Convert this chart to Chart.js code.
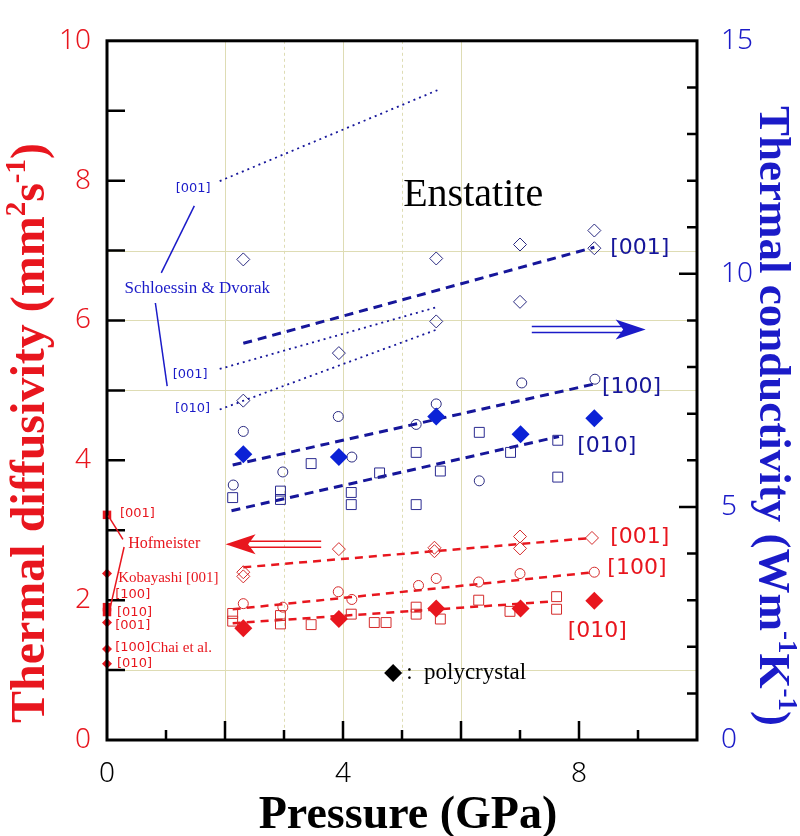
<!DOCTYPE html>
<html>
<head>
<meta charset="utf-8">
<script src="https://cdn.jsdelivr.net/npm/chart.js@4"></script>
<style>
  body { margin: 0; background: #fff; }
  canvas { display: block; }
</style>
</head>
<body>
<canvas id="chart" width="800" height="836"></canvas>
<script>
// ---- data (x = pressure GPa) ----
// conductivity, right axis (W m-1 K-1)
const b001X = [2.31, 2.31, 3.93, 5.58, 5.58, 7.0, 7.0, 8.26, 8.26];
const b001Y = [10.31, 7.28, 8.30, 8.98, 10.33, 10.63, 9.40, 10.93, 10.55];
const b100X = [2.31, 2.14, 2.98, 3.92, 4.15, 5.24, 5.58, 6.31, 7.03, 8.27];
const b100Y = [6.62, 5.47, 5.75, 6.94, 6.07, 6.77, 7.21, 5.56, 7.66, 7.74];
const b010X = [2.13, 2.94, 2.94, 3.46, 4.14, 4.14, 4.62, 5.24, 5.24, 5.65, 6.31, 6.84, 7.64, 7.64];
const b010Y = [5.20, 5.34, 5.16, 5.93, 5.31, 5.05, 5.73, 6.17, 5.05, 5.77, 6.60, 6.17, 6.43, 5.64];
const bPolyX = [2.31, 3.93, 5.58, 7.01, 8.26];
const bPolyY = [6.13, 6.07, 6.94, 6.56, 6.90];
const bFit001 = { x: [2.31, 8.26], y: [8.51, 10.57] };
const bFit100 = { x: [2.13, 8.27], y: [5.90, 7.64] };
const bFit010 = { x: [2.11, 7.66], y: [4.92, 6.51] };
// Schloessin & Dvorak
const sd001a = { x: [1.91, 5.60], y: [11.99, 13.94] };
const sd001b = { x: [1.91, 5.60], y: [7.96, 9.29] };
const sd010 = { x: [1.91, 5.60], y: [7.09, 8.81] };

// diffusivity, left axis (mm2 s-1)
const r001X = [2.31, 2.31, 3.93, 5.55, 5.55, 7.0, 7.0, 8.22];
const r001Y = [2.40, 2.34, 2.73, 2.75, 2.70, 2.91, 2.74, 2.89];
const r100X = [2.31, 2.98, 3.92, 4.15, 5.28, 5.58, 6.30, 7.0, 8.26];
const r100Y = [1.95, 1.90, 2.12, 2.01, 2.21, 2.31, 2.26, 2.38, 2.40];
const r010X = [2.13, 2.13, 2.94, 2.94, 3.46, 4.14, 4.53, 4.73, 5.24, 5.24, 5.65, 6.30, 6.83, 7.62, 7.62];
const r010Y = [1.81, 1.70, 1.78, 1.66, 1.65, 1.80, 1.68, 1.68, 1.90, 1.80, 1.73, 2.00, 1.84, 2.05, 1.87];
const rPolyX = [2.31, 3.93, 5.58, 7.01, 8.26];
const rPolyY = [1.60, 1.73, 1.88, 1.88, 1.99];
const rFit001 = { x: [2.31, 8.22], y: [2.47, 2.89] };
const rFit100 = { x: [2.13, 8.26], y: [1.87, 2.40] };
const rFit010 = { x: [2.13, 7.54], y: [1.67, 1.98] };
// literature values at ambient pressure
const litSquareY = [3.22, 1.90, 1.83];
const litDiamondY = [2.38, 1.68, 1.30, 1.09];

// ticks
const xLabels = [0, 4, 8];
const yLabels = [0, 2, 4, 6, 8, 10];
const y2Labels = [0, 5, 10, 15];
const xGrid = [2, 3, 4, 5, 6];
const yGrid = [1, 5, 6, 7];

const RED = '#e8161e';
const BLUE = '#1b1bc8';
const NAVY = '#16169a';
const GRID = '#dedcb4';

function pts(xs, ys) { return xs.map((x, i) => ({ x: x, y: ys[i] })); }

function marks(xs, ys, axis, style, color, radius, filled) {
    return {
        data: pts(xs, ys), yAxisID: axis, showLine: false, order: 1,
        pointStyle: style, pointRadius: radius, pointHoverRadius: radius,
        pointBorderColor: color, pointBorderWidth: filled ? 0 : 1,
        pointBackgroundColor: filled ? color : 'rgba(0,0,0,0)'
    };
}

function fit(line, axis, color, width, dash) {
    return {
        data: pts(line.x, line.y), yAxisID: axis, showLine: true, order: 2,
        borderColor: color, borderWidth: width, borderDash: dash, pointRadius: 0, fill: false
    };
}

const datasets = [
    marks(bPolyX, bPolyY, 'y2', 'rectRot', '#0b22d6', 9, true),
    marks(rPolyX, rPolyY, 'y', 'rectRot', RED, 9, true),
    marks(b001X, b001Y, 'y2', 'rectRot', '#2a2a80', 6.5, false),
    marks(b100X, b100Y, 'y2', 'circle', '#2a2a80', 5, false),
    marks(b010X, b010Y, 'y2', 'rect', '#2a2a90', 7, false),
    marks(r001X, r001Y, 'y', 'rectRot', '#d42a2a', 6.5, false),
    marks(r100X, r100Y, 'y', 'circle', '#d42a2a', 5, false),
    marks(r010X, r010Y, 'y', 'rect', '#d42a2a', 7, false),
    Object.assign(marks(litSquareY.map(() => 0), litSquareY, 'y', 'rect', RED, 6, true), { clip: false }),
    Object.assign(marks(litDiamondY.map(() => 0), litDiamondY, 'y', 'rectRot', RED, 5, true), { clip: false }),
    fit(bFit001, 'y2', NAVY, 3, [9, 6]),
    fit(bFit100, 'y2', NAVY, 3, [9, 6]),
    fit(bFit010, 'y2', NAVY, 3, [9, 6]),
    fit(sd001a, 'y2', NAVY, 1.8, [2, 4]),
    fit(sd001b, 'y2', NAVY, 1.8, [2, 4]),
    fit(sd010, 'y2', NAVY, 1.8, [2, 4]),
    fit(rFit001, 'y', RED, 2.5, [8, 6]),
    fit(rFit100, 'y', RED, 2.5, [8, 6]),
    fit(rFit010, 'y', RED, 2.5, [8, 6])
];

// text labels placed in data units (x, left-axis y)
const notes = [
    { t: 'Enstatite', x: 5.02, y: 7.64, font: '40px "Liberation Serif"', c: '#000', base: 'alphabetic' },
    { t: '[001]', x: 8.53, y: 7.03, font: '22px "DejaVu Sans"', c: NAVY },
    { t: '[100]', x: 8.39, y: 5.05, font: '22px "DejaVu Sans"', c: NAVY },
    { t: '[010]', x: 7.97, y: 4.20, font: '22px "DejaVu Sans"', c: NAVY },
    { t: '[001]', x: 8.53, y: 2.90, font: '22px "DejaVu Sans"', c: RED },
    { t: '[100]', x: 8.48, y: 2.45, font: '22px "DejaVu Sans"', c: RED },
    { t: '[010]', x: 7.81, y: 1.56, font: '22px "DejaVu Sans"', c: RED },
    { t: '[001]', x: 1.46, y: 7.88, font: '13px "DejaVu Sans"', c: BLUE, align: 'center' },
    { t: 'Schloessin & Dvorak', x: 1.53, y: 6.45, font: '17px "Liberation Serif"', c: BLUE, align: 'center' },
    { t: '[001]', x: 1.41, y: 5.22, font: '13px "DejaVu Sans"', c: BLUE, align: 'center' },
    { t: '[010]', x: 1.45, y: 4.74, font: '13px "DejaVu Sans"', c: BLUE, align: 'center' },
    { t: '[001]', x: 0.22, y: 3.24, font: '13px "DejaVu Sans"', c: RED },
    { t: 'Hofmeister', x: 0.36, y: 2.81, font: '16px "Liberation Serif"', c: RED },
    { t: 'Kobayashi [001]', x: 0.19, y: 2.31, font: '15px "Liberation Serif"', c: RED },
    { t: '[100]', x: 0.14, y: 2.08, font: '13px "DejaVu Sans"', c: RED },
    { t: '[010]', x: 0.17, y: 1.82, font: '13px "DejaVu Sans"', c: RED },
    { t: '[001]', x: 0.14, y: 1.64, font: '13px "DejaVu Sans"', c: RED },
    { t: '[100]', x: 0.14, y: 1.32, font: '13px "DejaVu Sans"', c: RED },
    { t: 'Chai et al.', x: 0.74, y: 1.32, font: '15px "Liberation Serif"', c: RED },
    { t: '[010]', x: 0.17, y: 1.09, font: '13px "DejaVu Sans"', c: RED },
    { t: ':  polycrystal', x: 5.07, y: 0.96, font: '23px "Liberation Serif"', c: '#000' }
];
// leader lines [x1, y1, x2, y2] in (x, left-axis y)
const leaders = [
    { p: [1.48, 7.64, 0.92, 6.68], c: BLUE },
    { p: [0.82, 6.25, 1.02, 5.06], c: BLUE },
    { p: [0.02, 3.21, 0.27, 2.87], c: RED },
    { p: [0.29, 2.76, 0.05, 1.88], c: RED }
];
// arrows: from x1 to tip x2 at left-axis y
const arrows = [
    { x1: 7.2, x2: 9.13, y: 5.87, c: BLUE },
    { x1: 3.63, x2: 2.01, y: 2.80, c: RED }
];

const decor = {
    id: 'decor',
    beforeDatasetsDraw(chart) {
        const { ctx, chartArea: a, scales: { x, y } } = chart;
        ctx.save();
        ctx.strokeStyle = GRID;
        ctx.lineWidth = 1;
        xGrid.forEach(v => {
            ctx.setLineDash(v % 2 ? [3, 3] : []);
            const px = Math.round(x.getPixelForValue(v)) + 0.5;
            ctx.beginPath(); ctx.moveTo(px, a.top); ctx.lineTo(px, a.bottom); ctx.stroke();
        });
        ctx.setLineDash([]);
        yGrid.forEach(v => {
            const py = Math.round(y.getPixelForValue(v)) + 0.5;
            ctx.beginPath(); ctx.moveTo(a.left, py); ctx.lineTo(a.right, py); ctx.stroke();
        });
        ctx.restore();
    },
    afterDatasetsDraw(chart) {
        const { ctx, chartArea: a, scales: { x, y, y2 } } = chart;
        ctx.save();
        // frame
        ctx.strokeStyle = '#000';
        ctx.lineWidth = 3;
        ctx.strokeRect(a.left, a.top, a.right - a.left, a.bottom - a.top);
        // inward ticks
        ctx.lineWidth = 2.5;
        ctx.beginPath();
        for (let v = 1; v < 10; v++) {
            const px = x.getPixelForValue(v);
            ctx.moveTo(px, a.bottom); ctx.lineTo(px, a.bottom - (v % 2 ? 10 : 19));
            const py = y.getPixelForValue(v);
            ctx.moveTo(a.left, py); ctx.lineTo(a.left + 18, py);
        }
        for (let v = 1; v < 15; v++) {
            const py = y2.getPixelForValue(v);
            ctx.moveTo(a.right, py); ctx.lineTo(a.right - (v % 5 ? 10 : 18), py);
        }
        ctx.stroke();

        // leader lines
        ctx.lineWidth = 1.5;
        leaders.forEach(l => {
            ctx.strokeStyle = l.c;
            ctx.beginPath();
            ctx.moveTo(x.getPixelForValue(l.p[0]), y.getPixelForValue(l.p[1]));
            ctx.lineTo(x.getPixelForValue(l.p[2]), y.getPixelForValue(l.p[3]));
            ctx.stroke();
        });

        // double-shaft arrows
        arrows.forEach(ar => {
            const x1 = x.getPixelForValue(ar.x1), x2 = x.getPixelForValue(ar.x2);
            const py = y.getPixelForValue(ar.y);
            const dir = x2 > x1 ? 1 : -1;
            const head = 30, half = 10;
            ctx.strokeStyle = ar.c;
            ctx.fillStyle = ar.c;
            ctx.lineWidth = 1.6;
            ctx.beginPath();
            ctx.moveTo(x1, py - 3); ctx.lineTo(x2 - dir * head * 0.7, py - 3);
            ctx.moveTo(x1, py + 3); ctx.lineTo(x2 - dir * head * 0.7, py + 3);
            ctx.stroke();
            ctx.beginPath();
            ctx.moveTo(x2, py);
            ctx.lineTo(x2 - dir * head, py - half);
            ctx.lineTo(x2 - dir * head * 0.75, py);
            ctx.lineTo(x2 - dir * head, py + half);
            ctx.closePath();
            ctx.fill();
        });

        // legend diamond
        const lx = x.getPixelForValue(4.85), ly = y.getPixelForValue(0.96);
        ctx.fillStyle = '#000';
        ctx.beginPath();
        ctx.moveTo(lx - 9, ly); ctx.lineTo(lx, ly - 9); ctx.lineTo(lx + 9, ly); ctx.lineTo(lx, ly + 9);
        ctx.closePath(); ctx.fill();

        // notes
        notes.forEach(n => {
            ctx.font = n.font;
            ctx.fillStyle = n.c;
            ctx.textAlign = n.align || 'left';
            ctx.textBaseline = n.base || 'middle';
            ctx.fillText(n.t, x.getPixelForValue(n.x), y.getPixelForValue(n.y));
        });
        ctx.restore();
    },
    afterDraw(chart) {
        const { ctx, chartArea: a } = chart;
        rich(ctx, [{ t: 'Thermal diffusivity (mm' }, { t: '2', sup: true }, { t: 's' }, { t: '-1', sup: true }, { t: ')' }],
            32, 433, -Math.PI / 2, 48, RED);
        rich(ctx, [{ t: 'Thermal conductivity (Wm' }, { t: '-1', sup: true }, { t: 'K' }, { t: '-1', sup: true }, { t: ')' }],
            772, 416, Math.PI / 2, 45, BLUE);
        ctx.save();
        ctx.font = 'bold 46px "Liberation Serif"';
        ctx.fillStyle = '#000';
        ctx.textAlign = 'center';
        ctx.textBaseline = 'alphabetic';
        ctx.fillText('Pressure (GPa)', (a.left + a.right) / 2 + 6, 828);
        ctx.restore();
    }
};

function rich(ctx, parts, cx, cy, rot, size, color) {
    ctx.save();
    ctx.translate(cx, cy);
    ctx.rotate(rot);
    ctx.fillStyle = color;
    ctx.textBaseline = 'middle';
    ctx.textAlign = 'left';
    const fontOf = p => 'bold ' + (p.sup ? Math.round(size * 0.6) : size) + 'px "Liberation Serif"';
    let w = 0;
    parts.forEach(p => { ctx.font = fontOf(p); w += ctx.measureText(p.t).width; });
    let px = -w / 2;
    parts.forEach(p => {
        ctx.font = fontOf(p);
        ctx.fillText(p.t, px, p.sup ? -size * 0.3 : 0);
        px += ctx.measureText(p.t).width;
    });
    ctx.restore();
}

const tickFont = { family: 'Noto Sans', size: 28, weight: '300' };

new Chart(document.getElementById('chart'), {
    type: 'scatter',
    data: { datasets: datasets },
    options: {
        responsive: false,
        animation: false,
        layout: { padding: { top: 33 } },
        plugins: { legend: { display: false }, tooltip: { enabled: false } },
        scales: {
            x: {
                type: 'linear', min: 0, max: 10,
                grid: { display: false, drawTicks: false },
                border: { display: false },
                ticks: {
                    stepSize: 1, autoSkip: false, maxRotation: 0, padding: 17, color: '#000', font: tickFont,
                    callback: v => xLabels.includes(v) ? v : ''
                },
                afterFit: s => { s.height = 96; }
            },
            y: {
                position: 'left', min: 0, max: 10,
                grid: { display: false, drawTicks: false },
                border: { display: false },
                ticks: {
                    stepSize: 1, autoSkip: false, padding: 16, color: RED, font: tickFont,
                    callback: v => yLabels.includes(v) ? v : ''
                },
                afterFit: s => { s.width = 107; }
            },
            y2: {
                position: 'right', min: 0, max: 15,
                grid: { display: false, drawTicks: false },
                border: { display: false },
                ticks: {
                    stepSize: 1, autoSkip: false, padding: 24, color: BLUE, font: tickFont,
                    callback: v => y2Labels.includes(v) ? v : ''
                },
                afterFit: s => { s.width = 103; }
            }
        }
    },
    plugins: [decor]
});
</script>
</body>
</html>
